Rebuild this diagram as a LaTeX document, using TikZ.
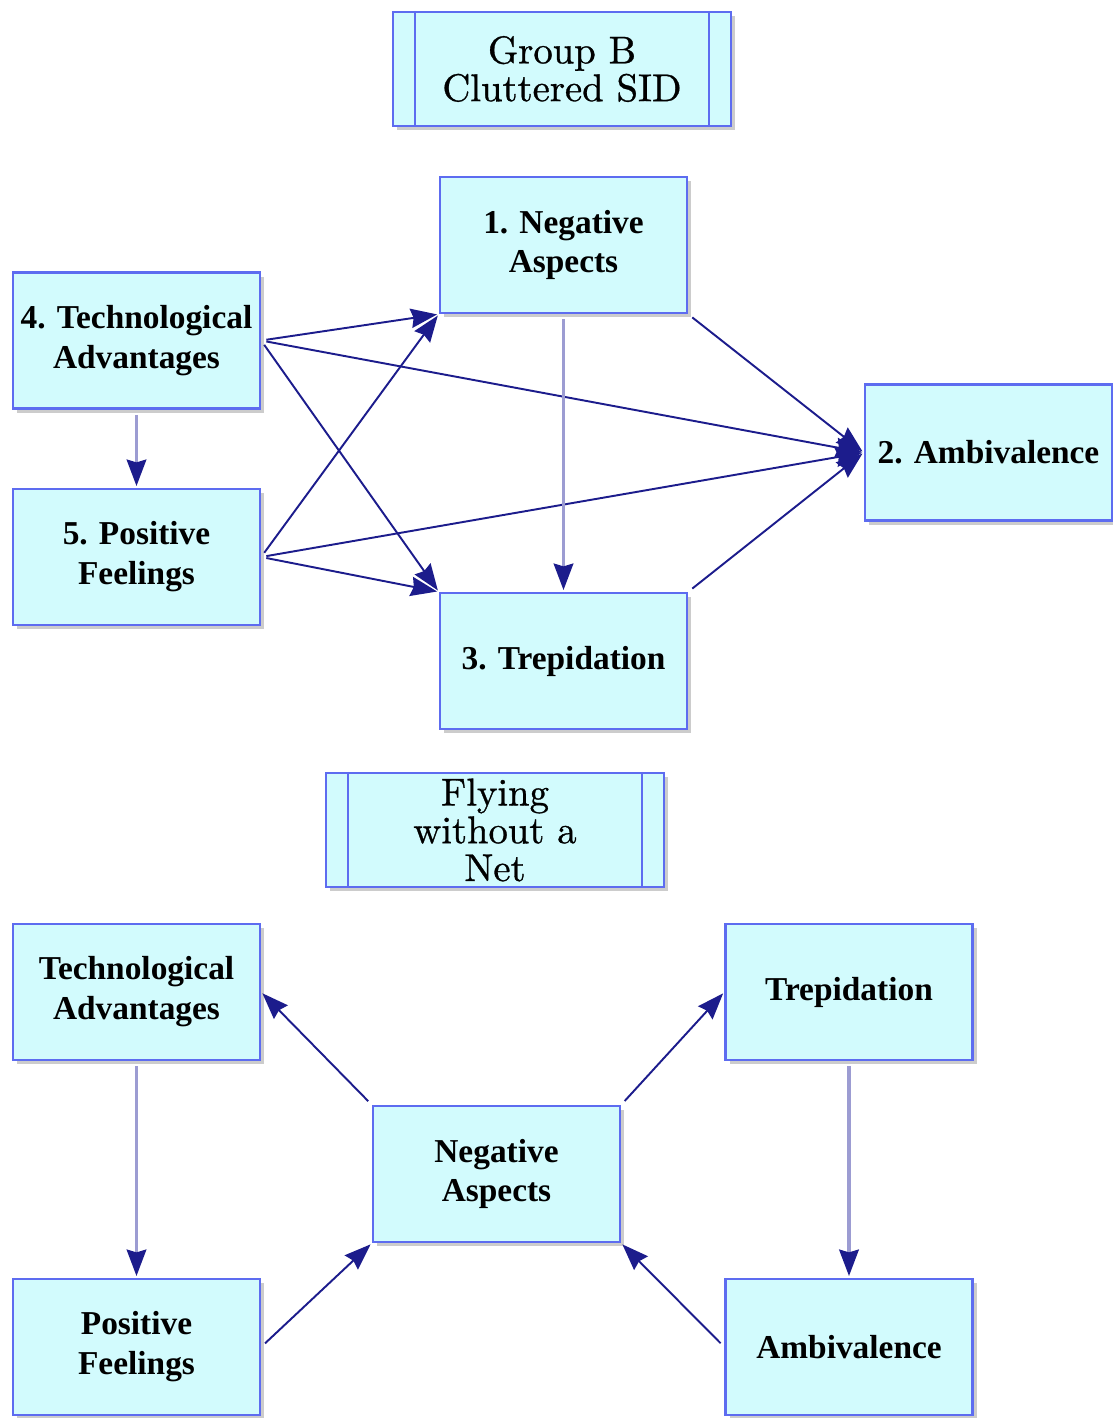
\documentclass[tikz,border=0pt]{standalone}
\usepackage{fontspec}
\setmainfont{Liberation Serif}
\newfontfamily\titlefont{lmroman10-regular.otf}[FakeBold=0.8]
\usepackage{tikz}
\usetikzlibrary{positioning,arrows.meta,calc,shadows}
\definecolor{boxfill}{HTML}{D2FBFD}
\definecolor{boxline}{HTML}{5D6CF0}
\definecolor{navy}{HTML}{1C1C8C}
\definecolor{lilac}{HTML}{9C9CD2}

\begin{document}
\begin{tikzpicture}[every node/.style={font=\rmfamily\fontsize{19}{22.7}\selectfont\bfseries}]
    \tikzstyle{b}=[rectangle,draw=boxline,fill=boxfill,line width=1.3pt,minimum width=4.94cm,minimum height=2.72cm,inner sep=0pt,align=center,drop shadow={shadow xshift=2.5pt,shadow yshift=-2.5pt,opacity=0.4}];
    \tikzstyle{t}=[b,minimum width=6.76cm,minimum height=2.28cm,font=\titlefont\fontsize{22}{21.5}\selectfont];
    \tikzstyle{dk}=[-{Stealth[length=15pt,width=11pt,inset=1.5pt]},navy,line width=1.1pt,shorten <=3pt,shorten >=1pt];
    \tikzstyle{lt}=[-{Stealth[length=15pt,width=11pt,inset=1.5pt,color=navy]},draw=lilac,line width=2.2pt,shorten <=3pt,shorten >=1pt];
    \useasboundingbox (0,0) rectangle (22.24,-28.36);
    % group B
    \node[t] (tB) at (11.24,-1.38) {Group B\\Cluttered SID};
    \node[b] (1) at (11.27,-4.9)  {1. Negative\\Aspects};
    \node[b] (4) at (2.73,-6.81)  {4. Technological\\Advantages};
    \node[b] (2) at (19.77,-9.05) {2. Ambivalence};
    \node[b] (5) at (2.73,-11.14) {5. Positive\\Feelings};
    \node[b] (3) at (11.27,-13.22) {3. Trepidation};
    \draw[dk] (4.east) -- (1.south west);
    \draw[dk] (4.east) -- (2.west);
    \draw[dk] (4.east) -- (3.north west);
    \draw[dk] (5.east) -- (1.south west);
    \draw[dk] (5.east) -- (2.west);
    \draw[dk] (5.east) -- (3.north west);
    \draw[dk] (1.south east) -- (2.west);
    \draw[dk] (3.north east) -- (2.west);
    \draw[lt] (4.south) -- (5.north);
    \draw[lt] (1.south) -- (3.north);
    % flying without a net
    \node[t] (tF) at (9.9,-16.6) {Flying\\without a\\Net};
    \node[b] (ta) at (2.73,-19.84)  {Technological\\Advantages};
    \node[b] (tr) at (16.98,-19.84) {Trepidation};
    \node[b] (na) at (9.93,-23.48)  {Negative\\Aspects};
    \node[b] (pf) at (2.73,-26.94)  {Positive\\Feelings};
    \node[b] (am) at (16.98,-26.94) {Ambivalence};
    \draw[dk] (na.north west) -- (ta.east);
    \draw[dk] (na.north east) -- (tr.west);
    \draw[dk] (pf.east) -- (na.south west);
    \draw[dk] (am.west) -- (na.south east);
    \draw[lt] (ta.south) -- (pf.north);
    \draw[lt] (tr.south) -- (am.north);
    % double side bars of the titles
    \foreach \n in {tB,tF} {
      \draw[boxline,line width=1.3pt] ($(\n.north west)+(0.46,0)$) -- ($(\n.south west)+(0.46,0)$);
      \draw[boxline,line width=1.3pt] ($(\n.north east)+(-0.46,0)$) -- ($(\n.south east)+(-0.46,0)$);
    }
  \end{tikzpicture}
\end{document}
